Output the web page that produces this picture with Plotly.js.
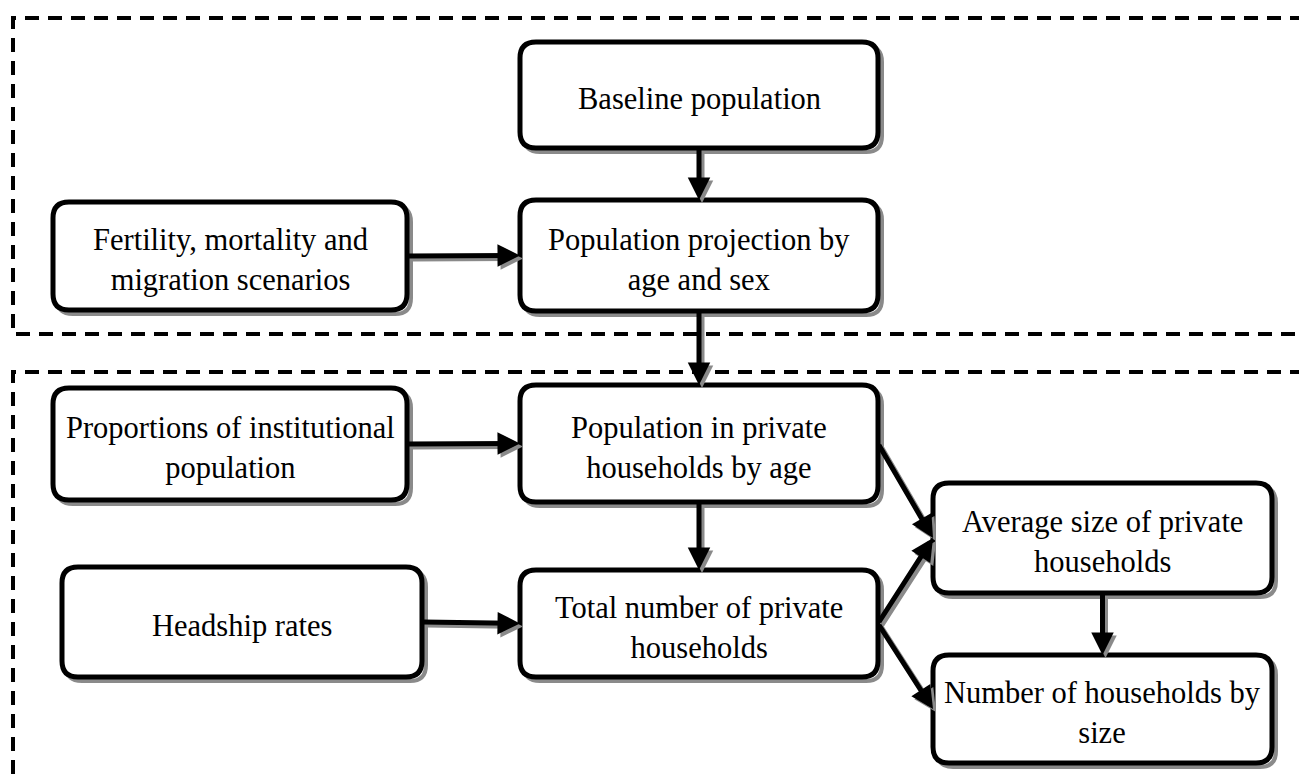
<!DOCTYPE html>
<html>
<head>
<meta charset="utf-8">
<script src="https://cdn.plot.ly/plotly-3.0.1.min.js"></script>
<style>html,body{margin:0;padding:0;background:#fff;}#chart{width:1299px;height:776px;}</style>
</head>
<body>
<div id="chart"></div>
<script>
// Node labels (flowchart content)
const nodeIds = ["baseline","scenarios","projection","institutional","privatePop","headship","totalHH","avgSize","bySize"];
const nodeLabels = [
  "Baseline population",
  "Fertility, mortality and<br>migration scenarios",
  "Population projection by<br>age and sex",
  "Proportions of institutional<br>population",
  "Population in private<br>households by age",
  "Headship rates",
  "Total number of private<br>households",
  "Average size of private<br>households",
  "Number of households by<br>size"
];
// Connections: from, to, exit side, entry side
const edgeFrom = ["baseline","scenarios","projection","institutional","privatePop","headship","privatePop","totalHH","totalHH","avgSize"];
const edgeTo   = ["projection","projection","privatePop","privatePop","totalHH","totalHH","avgSize","avgSize","bySize","bySize"];
const edgeOut  = ["bottom","right","bottom","right","bottom","right","right","right","right","bottom"];
const edgeIn   = ["top","left","top","left","top","left","left","left","left","top"];

// Layout geometry (pixel-like axis units, y downward)
const boxX0 = [520, 53, 520, 53, 520, 62, 520, 933, 933];
const boxX1 = [878, 407, 878, 407, 878, 422, 878, 1272, 1272];
const boxY0 = [42, 202, 200, 388, 385, 567, 570, 483, 655];
const boxY1 = [148, 310, 311, 500, 502, 677, 677, 593, 763];

const W = 1299, H = 776;
const shapes = [];
const annotations = [];
const R = 16, SH = 4;

function rrect(x0, y0, x1, y1, r) {
  return `M ${x0+r},${y0} L ${x1-r},${y0} Q ${x1},${y0} ${x1},${y0+r} L ${x1},${y1-r} Q ${x1},${y1} ${x1-r},${y1} L ${x0+r},${y1} Q ${x0},${y1} ${x0},${y1-r} L ${x0},${y0+r} Q ${x0},${y0} ${x0+r},${y0} Z`;
}

// Dashed region frames
const dash = "14px,9px";
shapes.push({type:"path", xref:"x", yref:"y", path:`M ${W+5},18 L 13,18 L 13,334 L ${W+5},334`, line:{color:"#000", width:4, dash:dash}});
shapes.push({type:"path", xref:"x", yref:"y", path:`M ${W+5},372 L 13,372 L 13,${H+5}`, line:{color:"#000", width:4, dash:dash}});

// Boxes with shadow
for (let i = 0; i < nodeIds.length; i++) {
  shapes.push({type:"path", xref:"x", yref:"y", path:rrect(boxX0[i]+SH, boxY0[i]+SH, boxX1[i]+SH, boxY1[i]+SH, R),
    line:{color:"#8a8a8a", width:4}, fillcolor:"rgba(0,0,0,0)"});
  shapes.push({type:"path", xref:"x", yref:"y", path:rrect(boxX0[i], boxY0[i], boxX1[i], boxY1[i], R),
    line:{color:"#000", width:5}, fillcolor:"#fff"});
  annotations.push({x:(boxX0[i]+boxX1[i])/2, y:(boxY0[i]+boxY1[i])/2, xref:"x", yref:"y",
    text:nodeLabels[i], showarrow:false, align:"center", yshift:-4,
    font:{family:"Liberation Serif, Times New Roman, serif", size:30.5, color:"#000"}});
}

function anchor(idx, side) {
  const cx = (boxX0[idx]+boxX1[idx])/2, cy = (boxY0[idx]+boxY1[idx])/2;
  if (side === "top") return [cx, boxY0[idx]];
  if (side === "bottom") return [cx, boxY1[idx]];
  if (side === "left") return [boxX0[idx], cy];
  return [boxX1[idx], cy];
}

const arrowAnn = [];
for (let k = 0; k < edgeFrom.length; k++) {
  const a = nodeIds.indexOf(edgeFrom[k]), b = nodeIds.indexOf(edgeTo[k]);
  const p0 = anchor(a, edgeOut[k]), p1 = anchor(b, edgeIn[k]);
  // shadow
  arrowAnn.push({x:p1[0]+3, y:p1[1]+3, ax:p0[0]+3, ay:p0[1]+3, xref:"x", yref:"y", axref:"x", ayref:"y",
    text:"", showarrow:true, arrowhead:2, arrowsize:0.9, arrowwidth:5, arrowcolor:"#8a8a8a", standoff:0, startstandoff:0});
  arrowAnn.push({x:p1[0], y:p1[1], ax:p0[0], ay:p0[1], xref:"x", yref:"y", axref:"x", ayref:"y",
    text:"", showarrow:true, arrowhead:2, arrowsize:0.9, arrowwidth:5, arrowcolor:"#000", standoff:0, startstandoff:0});
}

const layout = {
  width: W, height: H,
  margin:{l:0, r:0, t:0, b:0},
  paper_bgcolor:"#fff", plot_bgcolor:"#fff",
  xaxis:{range:[0, W], visible:false, fixedrange:true},
  yaxis:{range:[H, 0], visible:false, fixedrange:true},
  shapes: shapes,
  annotations: arrowAnn.concat(annotations),
  showlegend:false
};

Plotly.newPlot("chart", [{x:[], y:[], type:"scatter", mode:"markers", hoverinfo:"skip"}], layout, {staticPlot:true, displayModeBar:false});
</script>
</body>
</html>
